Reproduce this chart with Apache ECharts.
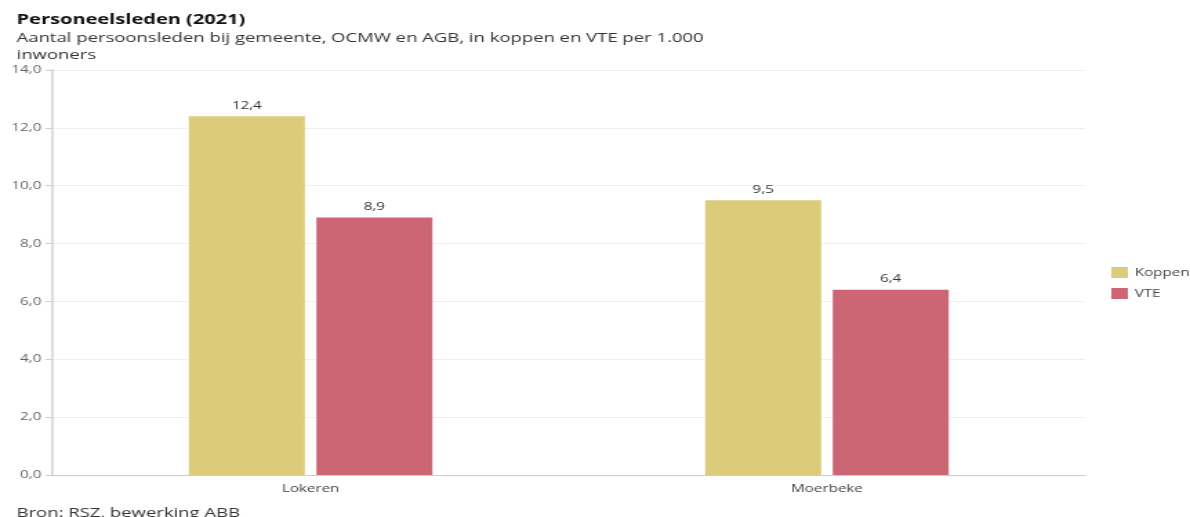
<!DOCTYPE html>
<html>
<head>
<meta charset="utf-8">
<script src="https://cdn.jsdelivr.net/npm/echarts@6/dist/echarts.min.js"></script>
<style>
  html, body { margin: 0; padding: 0; background: #fff; overflow: hidden; }
  /* the reference is horizontally stretched, so draw narrow and stretch */
  #main { width: 862px; height: 517px; transform: scaleX(1.3805); transform-origin: 0 0; }
</style>
</head>
<body>
<div id="main"></div>
<script>
// data
var gemeenten = ["Lokeren", "Moerbeke"];
var koppen = [12.4, 9.5];
var vte = [8.9, 6.4];
var seriesNames = ["Koppen", "VTE"];

var fmt = function (v) {
  return Number(v).toFixed(1).replace(".", ",");
};

var myChart = echarts.init(document.getElementById("main"));
var option = {
  backgroundColor: "#fff",
  textStyle: { fontFamily: "Open Sans, sans-serif" },
  title: [
    {
      text: "Personeelsleden (2021)",
      left: 7,
      top: 7,
      textStyle: { fontSize: 14.5, fontWeight: "bold", color: "#111", fontFamily: "Open Sans" }
    },
    {
      text: "Aantal persoonsleden bij gemeente, OCMW en AGB, in koppen en VTE per 1.000\ninwoners",
      left: 7,
      top: 25,
      textStyle: { fontSize: 13.4, fontWeight: "normal", color: "#333", lineHeight: 17, fontFamily: "Open Sans" }
    },
    {
      text: "Bron: RSZ, bewerking ABB",
      left: 7,
      top: 502,
      textStyle: { fontSize: 13.4, fontWeight: "normal", color: "#333", fontFamily: "Open Sans" }
    }
  ],
  legend: {
    orient: "vertical",
    left: 800,
    top: 262,
    itemWidth: 12,
    itemHeight: 11,
    itemGap: 10,
    icon: "rect",
    textStyle: { fontSize: 11, color: "#444" },
    data: seriesNames
  },
  grid: { left: 38, right: 76, top: 70, bottom: 42 },
  xAxis: {
    type: "category",
    data: gemeenten,
    axisLine: { lineStyle: { color: "#ccc" } },
    axisTick: { show: false },
    axisLabel: { color: "#444", fontSize: 11, margin: 8 }
  },
  yAxis: {
    type: "value",
    min: 0,
    max: 14,
    interval: 2,
    axisLine: { show: true, lineStyle: { color: "#ddd", width: 2 } },
    axisTick: { show: true, length: 5, lineStyle: { color: "#ccc" } },
    splitLine: { lineStyle: { color: "#f0f0f0" } },
    axisLabel: { color: "#666", fontSize: 11, margin: 8, formatter: fmt }
  },
  series: [
    {
      name: seriesNames[0],
      type: "bar",
      data: koppen,
      barWidth: 84,
      barGap: "10%",
      itemStyle: { color: "#dccb78" },
      label: { show: true, position: "top", color: "#333", fontSize: 11, formatter: function (p) { return fmt(p.value); } }
    },
    {
      name: seriesNames[1],
      type: "bar",
      data: vte,
      barWidth: 84,
      barGap: "10%",
      itemStyle: { color: "#cc6674" },
      label: { show: true, position: "top", color: "#333", fontSize: 11, formatter: function (p) { return fmt(p.value); } }
    }
  ]
};
myChart.setOption(option);
</script>
</body>
</html>
